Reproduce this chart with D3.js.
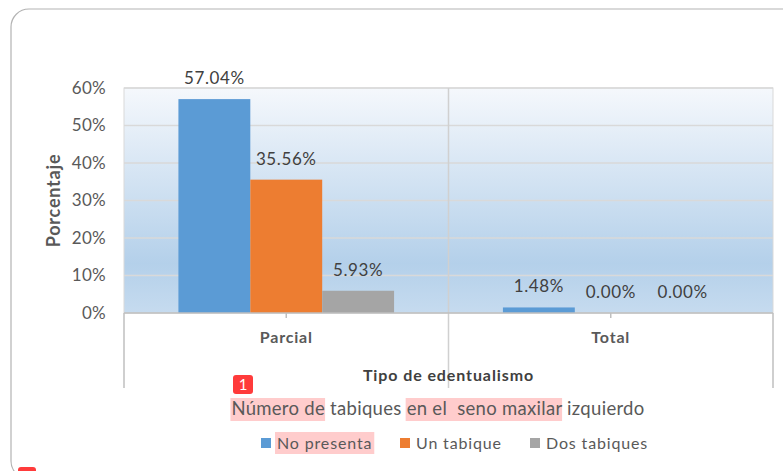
<!DOCTYPE html>
<html>
<head>
<meta charset="utf-8">
<script src="https://cdn.jsdelivr.net/npm/d3@7"></script>
<style>
  body { margin: 0; background: #fff; }
  svg { display: block; font-family: Lato, "Open Sans", sans-serif; }
</style>
</head>
<body>
<div id="chart"></div>
<script>
// data
const categories = ['Parcial', 'Total'];
const series = ['No presenta', 'Un tabique', 'Dos tabiques'];
const noPresenta = [57.04, 1.48];
const unTabique = [35.56, 0.00];
const dosTabiques = [5.93, 0.00];
const yTicks = [0, 10, 20, 30, 40, 50, 60];
const colors = ['#5b9bd5', '#ed7d31', '#a5a5a5'];

const values = [noPresenta, unTabique, dosTabiques];

const width = 783, height = 471;
const margin = { top: 88, right: 10, bottom: 158, left: 124 };

const svg = d3.select('#chart')
  .append('svg')
  .attr('width', width)
  .attr('height', height);

// outer card
svg.append('rect')
  .attr('x', 11).attr('y', 9)
  .attr('width', 800).attr('height', 470)
  .attr('rx', 18)
  .attr('fill', 'none')
  .attr('stroke', '#b3b3b3')
  .attr('stroke-width', 1.2);

// plot background gradient
const defs = svg.append('defs');
const grad = defs.append('linearGradient')
  .attr('id', 'bg')
  .attr('x1', 0).attr('y1', 0).attr('x2', 0).attr('y2', 1);
grad.append('stop').attr('offset', '0%').attr('stop-color', '#f5f8fc');
grad.append('stop').attr('offset', '78%').attr('stop-color', '#b4d0ea');
grad.append('stop').attr('offset', '100%').attr('stop-color', '#c6dbef');

const x0 = d3.scaleBand()
  .domain(categories)
  .range([margin.left, width - margin.right]);

const x1 = d3.scaleBand()
  .domain(series)
  .range([0, x0.bandwidth()])
  .paddingInner(0)
  .paddingOuter(0.757);

const y = d3.scaleLinear()
  .domain([0, 60])
  .range([height - margin.bottom, margin.top]);

const x0L = margin.left, x0R = width - margin.right;

svg.append('rect')
  .attr('x', x0L).attr('y', y(60))
  .attr('width', x0R - x0L).attr('height', y(0) - y(60))
  .attr('fill', 'url(#bg)')
  .attr('stroke', '#d9d9d9');

// horizontal gridlines
svg.append('g')
  .selectAll('line')
  .data(yTicks.slice(1))
  .join('line')
  .attr('x1', x0L).attr('x2', x0R)
  .attr('y1', d => y(d)).attr('y2', d => y(d))
  .attr('stroke', '#d9d9d9')
  .attr('stroke-width', 1.5);

// vertical category separators (through plot and label area)
const seps = [x0L, x0(categories[1]), x0R];
svg.append('g')
  .selectAll('line')
  .data(seps)
  .join('line')
  .attr('x1', d => d).attr('x2', d => d)
  .attr('y1', (d, i) => i === 1 ? y(60) : y(0))
  .attr('y2', 388)
  .attr('stroke', (d, i) => i === 1 ? '#d0d0d0' : '#bfbfbf')
  .attr('stroke-width', 1.5);

// bars
const groups = svg.append('g')
  .selectAll('g')
  .data(series)
  .join('g')
  .attr('fill', (d, i) => colors[i]);

groups.selectAll('rect')
  .data((s, si) => categories.map((c, ci) => ({ c, s, v: values[si][ci] })))
  .join('rect')
  .attr('x', d => x0(d.c) + x1(d.s))
  .attr('y', d => y(d.v))
  .attr('width', x1.bandwidth())
  .attr('height', d => y(0) - y(d.v));

// bottom axis line
svg.append('line')
  .attr('x1', x0L).attr('x2', x0R)
  .attr('y1', y(0)).attr('y2', y(0))
  .attr('stroke', '#bfbfbf')
  .attr('stroke-width', 1.5);

// tick marks at category centres
svg.append('g')
  .selectAll('line')
  .data(categories)
  .join('line')
  .attr('x1', d => x0(d) + x0.bandwidth() / 2)
  .attr('x2', d => x0(d) + x0.bandwidth() / 2)
  .attr('y1', y(0)).attr('y2', y(0) + 5)
  .attr('stroke', '#bfbfbf')
  .attr('stroke-width', 1.5);

// data labels
groups.selectAll('text')
  .data((s, si) => categories.map((c, ci) => ({ c, s, v: values[si][ci] })))
  .join('text')
  .attr('x', d => x0(d.c) + x1(d.s) + x1.bandwidth() / 2)
  .attr('y', d => y(d.v) - 15)
  .attr('text-anchor', 'middle')
  .attr('fill', '#404040')
  .style('font-size', '17px')
  .style('letter-spacing', '0.6px')
  .text(d => d.v.toFixed(2) + '%');

// y axis tick labels
svg.append('g')
  .selectAll('text')
  .data(yTicks)
  .join('text')
  .attr('x', 106)
  .attr('y', d => y(d))
  .attr('dy', '0.35em')
  .attr('text-anchor', 'end')
  .attr('fill', '#595959')
  .style('font-size', '17px')
  .style('letter-spacing', '0.3px')
  .text(d => d + '%');

// y axis title
svg.append('text')
  .attr('transform', `translate(60, ${(y(0) + y(60)) / 2}) rotate(-90)`)
  .attr('text-anchor', 'middle')
  .attr('fill', '#595959')
  .style('font-size', '18px')
  .style('font-weight', 'bold')
  .style('letter-spacing', '0.8px')
  .text('Porcentaje');

// category labels
svg.append('g')
  .selectAll('text')
  .data(categories)
  .join('text')
  .attr('x', d => x0(d) + x0.bandwidth() / 2)
  .attr('y', 343)
  .attr('text-anchor', 'middle')
  .attr('fill', '#595959')
  .style('font-size', '16px')
  .style('font-weight', 'bold')
  .style('letter-spacing', '0.8px')
  .text(d => d);

// x axis title
svg.append('text')
  .attr('x', x0(categories[1]))
  .attr('y', 381)
  .attr('text-anchor', 'middle')
  .attr('fill', '#404040')
  .style('font-size', '16px')
  .style('font-weight', 'bold')
  .style('letter-spacing', '0.9px')
  .text('Tipo de edentualismo');

// chart title with highlighted parts
const titleParts = [
  { t: 'Número de', hl: true },
  { t: ' tabiques ', hl: false },
  { t: 'en el  seno maxilar', hl: true },
  { t: ' izquierdo', hl: false }
];
const hlLayer = svg.append('g');
const title = svg.append('text')
  .attr('x', 438)
  .attr('y', 415)
  .attr('text-anchor', 'middle')
  .attr('fill', '#595959')
  .style('font-size', '18.5px')
  .style('letter-spacing', '0.3px')
  .style('white-space', 'pre');
title.selectAll('tspan')
  .data(titleParts)
  .join('tspan')
  .text(d => d.t);

const titleNode = title.node();
let pos = 0;
titleParts.forEach(p => {
  if (p.hl) {
    const sx = titleNode.getStartPositionOfChar(pos).x;
    const w = titleNode.getSubStringLength(pos, p.t.length);
    hlLayer.append('rect')
      .attr('x', sx - 1).attr('y', 398)
      .attr('width', w + 1).attr('height', 23)
      .attr('fill', '#ffcccc');
  }
  pos += p.t.length;
});

// red badge "1"
svg.append('rect')
  .attr('x', 233).attr('y', 375)
  .attr('width', 20).attr('height', 19)
  .attr('rx', 3)
  .attr('fill', '#ff3b3b');
svg.append('text')
  .attr('x', 243).attr('y', 390)
  .attr('text-anchor', 'middle')
  .attr('fill', '#fff')
  .style('font-size', '15px')
  .text('1');

// cut-off badge at bottom-left
svg.append('rect')
  .attr('x', 18).attr('y', 467)
  .attr('width', 18).attr('height', 10)
  .attr('rx', 3)
  .attr('fill', '#ff3b3b');

// legend
const legendX = [261, 400, 530];
const legend = svg.append('g')
  .selectAll('g')
  .data(series)
  .join('g')
  .attr('transform', (d, i) => `translate(${legendX[i]}, 443)`);

legend.filter((d, i) => i === 0)
  .append('rect')
  .attr('class', 'hl')
  .attr('x', 14).attr('y', -11)
  .attr('width', 100).attr('height', 22)
  .attr('fill', '#ffcccc');

legend.append('rect')
  .attr('x', 0).attr('y', -5)
  .attr('width', 10).attr('height', 10)
  .attr('fill', (d, i) => colors[i]);

legend.append('text')
  .attr('x', 16)
  .attr('y', 0)
  .attr('dy', '0.35em')
  .attr('fill', '#595959')
  .style('font-size', '16px')
  .style('letter-spacing', '0.85px')
  .text(d => d);

// size the highlight to the first legend label
legend.filter((d, i) => i === 0).each(function () {
  const g = d3.select(this);
  const w = g.select('text').node().getComputedTextLength();
  g.select('rect.hl').attr('width', w + 4);
});
</script>
</body>
</html>
